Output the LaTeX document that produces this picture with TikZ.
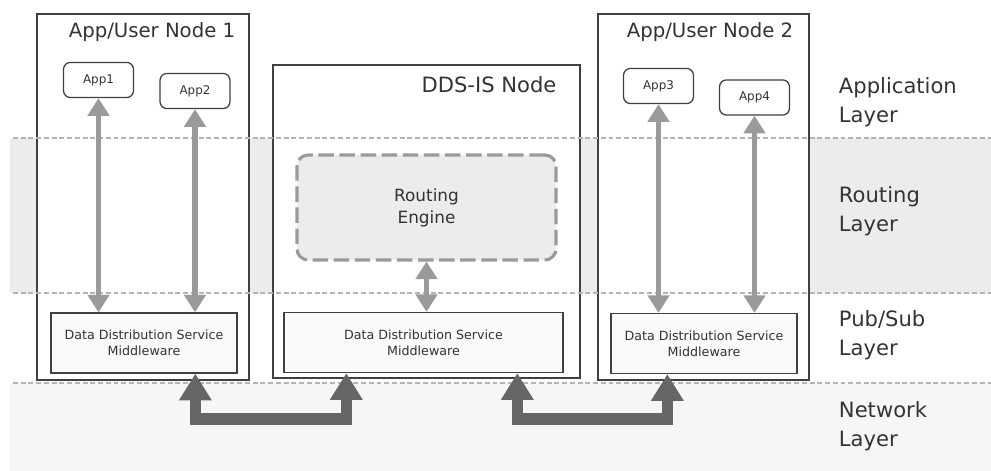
\documentclass[tikz,border=0pt]{standalone}
\usepackage{fontspec}
\setmainfont{DejaVu Sans}
\usetikzlibrary{arrows.meta,calc}
\definecolor{boxline}{HTML}{404040}
\definecolor{arrowgray}{HTML}{9A9A9A}
\definecolor{netgray}{HTML}{666666}
\definecolor{routeband}{HTML}{EBECEE}
\definecolor{netband}{HTML}{F6F6F6}
\definecolor{engfill}{HTML}{ECECEC}
\definecolor{ddsfill}{HTML}{FAFAFA}
\definecolor{dashgray}{HTML}{B4B4B4}
\definecolor{textgray}{HTML}{333333}
\begin{document}
\begin{tikzpicture}[x=0.025cm, y=-0.025cm,
    hostbox/.style={draw=boxline, line width=0.9pt, fill=white, minimum height=9.15cm},
    appbox/.style={draw=boxline, line width=0.9pt, fill=white, rounded corners=5pt,
        minimum width=1.75cm, minimum height=0.88cm, text=textgray, font=\fontsize{8.5}{10}\selectfont},
    ddsbox/.style={draw=boxline, line width=0.9pt, fill=ddsfill, minimum height=1.5cm,
        align=center, text=textgray, font=\fontsize{9}{11.3}\selectfont},
    title/.style={text=textgray, font=\fontsize{14}{16}\selectfont},
    layerlabel/.style={anchor=west, align=left, text=textgray, font=\fontsize{15}{21}\selectfont},
    layerline/.style={draw=dashgray, line width=1.1pt, dash pattern=on 3.5pt off 2pt},
    appflow/.style={draw=arrowgray, line width=4.2pt,
        {Triangle[width=15pt,length=12.5pt]}-{Triangle[width=15pt,length=12.5pt]}},
    netflow/.style={draw=netgray, line width=8pt,
        {Triangle[width=22pt,length=19pt]}-{Triangle[width=22pt,length=19pt]}}]
    \useasboundingbox (0,0) rectangle (991,471);

    % layer bands
    \fill[routeband] (10,138) rectangle (991,293);
    \fill[netband] (10,383) rectangle (991,471);

    % hosts
    \node[hostbox, minimum width=5.3cm] (host1) at (143,197) {};
    \node[hostbox, minimum width=7.675cm, minimum height=7.825cm] (ddsis) at (426.5,221.5) {};
    \node[hostbox, minimum width=5.275cm] (host2) at (703.5,197) {};

    % layer borders
    \draw[layerline] (13,138) -- (991,138);
    \draw[layerline] (13,293) -- (991,293);
    \draw[layerline] (13,383) -- (991,383);

    \node[title] (t1) at (152,32) {App/User Node 1};
    \node[title] (t2) at (710,32) {App/User Node 2};
    \node[title, font=\fontsize{15}{17}\selectfont] (t3) at (489,85) {DDS-IS Node};

    \node[appbox] (app1) at (98.5,80) {App1};
    \node[appbox] (app2) at (195,91) {App2};
    \node[appbox] (app3) at (658.5,86) {App3};
    \node[appbox] (app4) at (754.5,97.5) {App4};

    \node[draw=arrowgray, line width=2.2pt, dash pattern=on 11pt off 4pt, fill=engfill,
        rounded corners=8pt, minimum width=6.475cm, minimum height=2.625cm, align=center,
        text=textgray, font=\fontsize{12}{15.5}\selectfont] (engine) at (426.5,207.5) {Routing\\Engine};

    \node[ddsbox, minimum width=4.65cm] (dds1) at (144,343) {Data Distribution Service\\Middleware};
    \node[ddsbox, minimum width=6.975cm] (ddsm) at (423.5,342.5) {Data Distribution Service\\Middleware};
    \node[ddsbox, minimum width=4.65cm] (dds2) at (704,343.5) {Data Distribution Service\\Middleware};

    \draw[appflow] (app1.south) -- (app1.south |- dds1.north);
    \draw[appflow] (app2.south) -- (app2.south |- dds1.north);
    \draw[appflow] (app3.south) -- (app3.south |- dds2.north);
    \draw[appflow] (app4.south) -- (app4.south |- dds2.north);
    \draw[appflow] (engine.south) -- (engine.south |- ddsm.north);

    \coordinate (netlow) at (0,419);
    \coordinate (n1) at ($(dds1.south west)+(145,0)$);
    \coordinate (n2) at ($(ddsm.south west)+(63,0)$);
    \coordinate (n3) at ($(ddsm.south west)+(234,0)$);
    \coordinate (n4) at ($(dds2.south west)+(57,0)$);
    \draw[netflow] (n1) -- (n1 |- netlow) -| (n2);
    \draw[netflow] (n3) -- (n3 |- netlow) -| (n4);

    \node[layerlabel] (lapp) at (834,102) {Application\\Layer};
    \node[layerlabel] (lroute) at (834,211) {Routing\\Layer};
    \node[layerlabel] (lpub) at (834,335) {Pub/Sub\\Layer};
    \node[layerlabel] (lnet) at (834,426) {Network\\Layer};
\end{tikzpicture}
\end{document}
